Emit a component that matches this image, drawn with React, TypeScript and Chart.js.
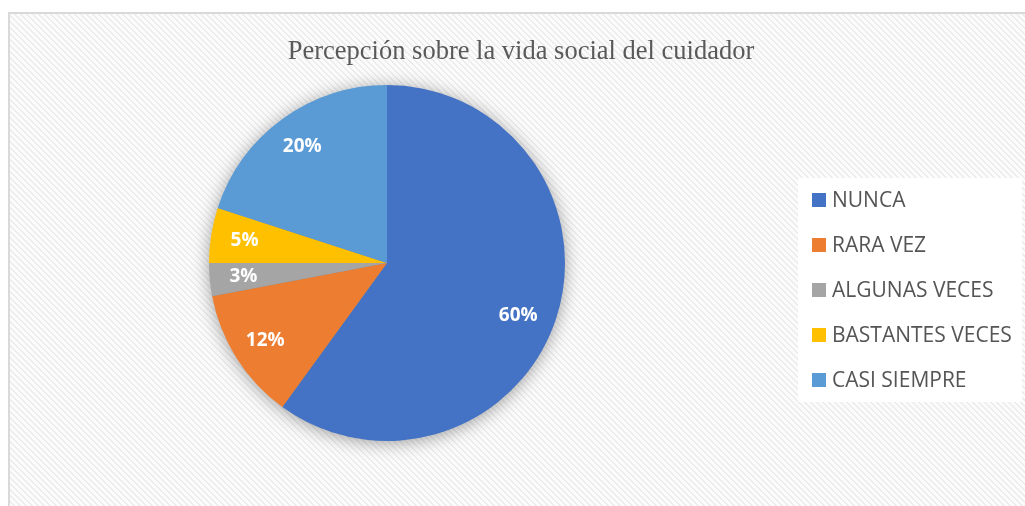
import React, { useEffect, useRef } from "react";
import { Chart, registerables } from "chart.js";

Chart.register(...registerables);

const TITLE = "Percepción sobre la vida social del cuidador";
const categories = ["NUNCA", "RARA VEZ", "ALGUNAS VECES", "BASTANTES VECES", "CASI SIEMPRE"];
const values = [60, 12, 3, 5, 20];
const colors = ["#4472C4", "#ED7D31", "#A5A5A5", "#FFC000", "#5B9BD5"];

function makePattern(ctx: CanvasRenderingContext2D) {
  const P = 6;
  const c = document.createElement("canvas");
  c.width = P;
  c.height = P;
  const g = c.getContext("2d")!;
  g.fillStyle = "#fbfbfb";
  g.fillRect(0, 0, P, P);
  g.fillStyle = "#ececec";
  for (let y = 0; y < P; y++) {
    for (let x = 0; x < P; x++) {
      const d = (((x - y) % P) + P) % P;
      if (d < 2) g.fillRect(x, y, 1, 1);
    }
  }
  return ctx.createPattern(c, "repeat")!;
}

const decorPlugin = {
  id: "decor",
  beforeDraw(chart: any) {
    const ctx: CanvasRenderingContext2D = chart.ctx;
    const W = chart.width;
    const H = chart.height;
    ctx.save();
    ctx.fillStyle = "#ffffff";
    ctx.fillRect(0, 0, W, H);
    ctx.fillStyle = makePattern(ctx);
    ctx.fillRect(10, 14, W - 10, H - 14);
    ctx.fillStyle = "#d9d9d9";
    ctx.fillRect(8, 12, W - 8, 2);
    ctx.fillRect(8, 12, 2, H - 12);
    // title
    ctx.fillStyle = "#595959";
    ctx.font = '26.5px "Liberation Serif", "Times New Roman", serif';
    ctx.textAlign = "center";
    ctx.textBaseline = "alphabetic";
    ctx.fillText(TITLE, 521, 59);
    // legend panel
    ctx.fillStyle = "#ffffff";
    ctx.fillRect(798, 178, 224, 224);
    const labels: string[] = chart.data.labels;
    const bg: string[] = chart.data.datasets[0].backgroundColor;
    ctx.font = '21px "Open Sans", sans-serif';
    ctx.textAlign = "left";
    ctx.textBaseline = "middle";
    labels.forEach((lab, i) => {
      const cy = 200 + i * 45;
      ctx.fillStyle = bg[i];
      ctx.fillRect(812, cy - 7, 14, 14);
      ctx.fillStyle = "#555555";
      ctx.fillText(lab, 832, cy + 1);
    });
    ctx.restore();
  },
  beforeDatasetsDraw(chart: any) {
    const meta = chart.getDatasetMeta(0);
    const arc = meta.data[0];
    if (!arc) return;
    const { x, y, outerRadius } = arc.getProps(["x", "y", "outerRadius"], true);
    const ctx: CanvasRenderingContext2D = chart.ctx;
    ctx.save();
    ctx.shadowColor = "rgba(0,0,0,0.4)";
    ctx.shadowBlur = 18;
    ctx.shadowOffsetX = 0;
    ctx.shadowOffsetY = 2;
    ctx.fillStyle = "#888";
    ctx.beginPath();
    ctx.arc(x, y, outerRadius - 1, 0, Math.PI * 2);
    ctx.fill();
    ctx.restore();
  },
  afterDatasetsDraw(chart: any) {
    const meta = chart.getDatasetMeta(0);
    const data: number[] = chart.data.datasets[0].data;
    const ctx: CanvasRenderingContext2D = chart.ctx;
    ctx.save();
    ctx.fillStyle = "#ffffff";
    ctx.font = 'bold 19px "Open Sans", sans-serif';
    ctx.textAlign = "center";
    ctx.textBaseline = "middle";
    meta.data.forEach((el: any, i: number) => {
      const { x, y, startAngle, endAngle, outerRadius } = el.getProps(
        ["x", "y", "startAngle", "endAngle", "outerRadius"],
        true
      );
      const mid = (startAngle + endAngle) / 2 + (i === 0 ? 0.06 : 0);
      const r = outerRadius * 0.81;
      ctx.fillText(data[i] + "%", x + Math.cos(mid) * r - (i === 0 ? 3 : 0), y + Math.sin(mid) * r);
    });
    ctx.restore();
  },
};

export default function App() {
  const ref = useRef<HTMLCanvasElement | null>(null);
  useEffect(() => {
    if (!ref.current) return;
    const chart = new Chart(ref.current, {
      type: "pie",
      data: {
        labels: categories,
        datasets: [
          {
            data: values,
            backgroundColor: colors,
            borderWidth: 0,
          },
        ],
      },
      options: {
        responsive: false,
        animation: false,
        devicePixelRatio: 1,
        layout: { padding: { left: 209, right: 460, top: 85, bottom: 65 } },
        plugins: {
          legend: { display: false },
          title: { display: false },
          tooltip: { enabled: false },
        },
      },
      plugins: [decorPlugin],
    });
    return () => chart.destroy();
  }, []);
  return (
    <div style={{ position: "fixed", left: 0, top: 0, width: 1025, height: 506 }}>
      <canvas ref={ref} width={1025} height={506} style={{ display: "block" }} />
    </div>
  );
}
